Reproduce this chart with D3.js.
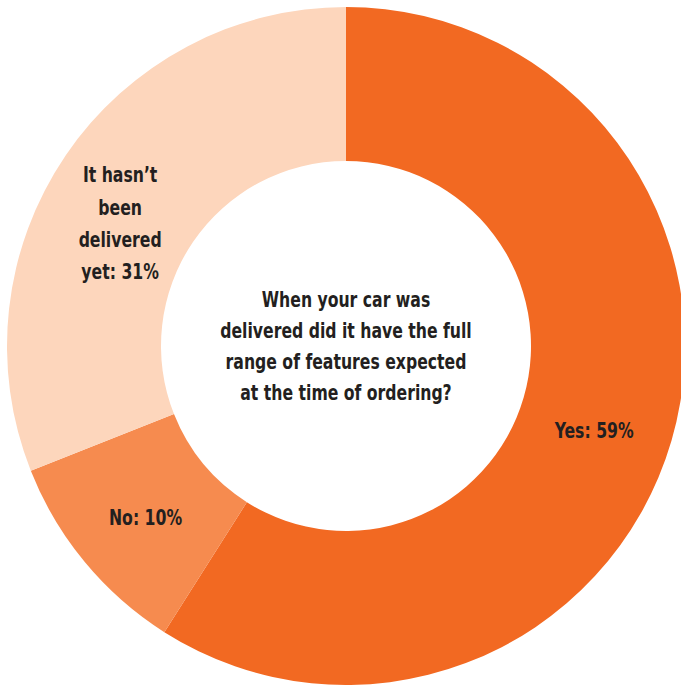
<!DOCTYPE html>
<html>
<head>
<meta charset="utf-8">
<script src="https://cdn.jsdelivr.net/npm/d3@7"></script>
<style>
  html, body { margin: 0; padding: 0; background: #ffffff; }
  svg { display: block; }
  text { font-family: "DejaVu Sans Condensed", "DejaVu Sans", sans-serif; font-weight: bold; fill: #231f20; }
</style>
</head>
<body>
<script>
// Survey answers, clockwise from 12 o'clock
const categories = ["Yes", "No", "It hasn’t been delivered yet"];
const values = [59, 10, 31];
const colors = ["#f26922", "#f68b4f", "#fdd6bc"];
// Slice labels, split into lines
const labelLines = [
  ["Yes: 59%"],
  ["No: 10%"],
  ["It hasn’t", "been", "delivered", "yet: 31%"]
];
const questionLines = [
  "When your car was",
  "delivered did it have the full",
  "range of features expected",
  "at the time of ordering?"
];

const width = 681, height = 685;
const cx = 346, cy = 346;
const outerR = 339, innerR = 185;

const svg = d3.select("body").append("svg")
  .attr("width", width).attr("height", height);

const g = svg.append("g").attr("transform", `translate(${cx},${cy})`);

const pie = d3.pie().sort(null).value(d => d.value);
const arcs = pie(categories.map((c, i) => ({ name: c, value: values[i], color: colors[i], lines: labelLines[i] })));

const arc = d3.arc().innerRadius(innerR).outerRadius(outerR);

g.selectAll("path.slice")
  .data(arcs)
  .join("path")
  .attr("class", "slice")
  .attr("d", arc)
  .attr("fill", d => d.data.color);

// Label placement: radius and angular offset (degrees) per slice
const labelRadius = [262, 264, 257];
const labelShiftDeg = [2.5, -1, -5.7];
const lineH = 32.3;
const fontSize = 21;
const squeeze = 0.83;

arcs.forEach((d, i) => {
  const a = (d.startAngle + d.endAngle) / 2 + labelShiftDeg[i] * Math.PI / 180;
  const r = labelRadius[i];
  const x = Math.sin(a) * r;
  const y = -Math.cos(a) * r;
  const n = d.data.lines.length;
  const t = g.append("g").attr("transform", `translate(${x},${y}) scale(${squeeze},1)`);
  t.selectAll("text")
    .data(d.data.lines)
    .join("text")
    .attr("text-anchor", "middle")
    .attr("font-size", fontSize)
    .attr("x", 0)
    .attr("y", (_, j) => (j - (n - 1) / 2) * lineH + fontSize * 0.36)
    .text(s => s);
});

// Question in the hole
const q = g.append("g").attr("transform", `scale(${squeeze},1)`);
q.selectAll("text")
  .data(questionLines)
  .join("text")
  .attr("text-anchor", "middle")
  .attr("font-size", fontSize)
  .attr("y", (_, j) => (j - 1.5) * 31 + fontSize * 0.36)
  .text(s => s);
</script>
</body>
</html>
